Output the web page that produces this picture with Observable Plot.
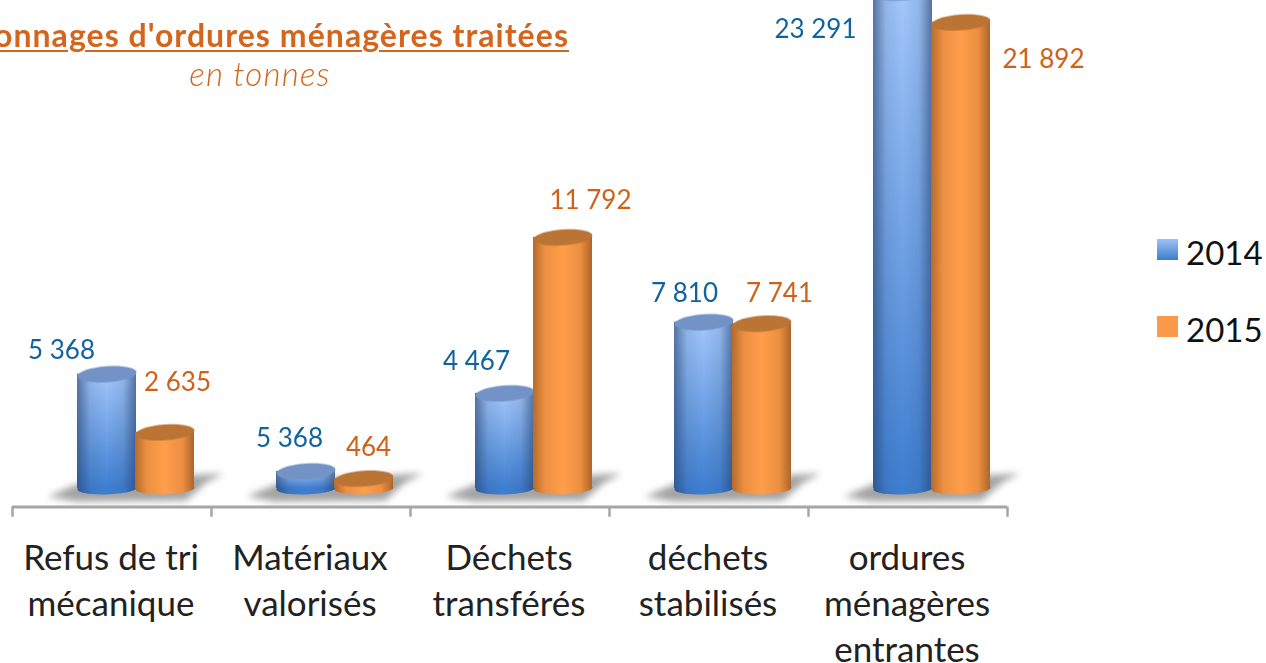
<!DOCTYPE html>
<html lang="fr">
<head>
<meta charset="utf-8">
<script src="https://cdn.jsdelivr.net/npm/d3@7"></script>
<script src="https://cdn.jsdelivr.net/npm/@observablehq/plot@0.6"></script>
<style>
html,body{margin:0;padding:0;background:#fff;width:1266px;height:663px;overflow:hidden}
#wrap{position:relative;width:1266px;height:663px;overflow:hidden}
#title{position:absolute;right:697px;top:15px;white-space:nowrap;font:700 32px Lato,sans-serif;letter-spacing:1.05px;color:#d4651c;text-decoration:underline;text-decoration-thickness:2px;text-underline-offset:3px;line-height:40px}
#subtitle{position:absolute;left:130px;width:260px;top:54px;text-align:center;font:italic 300 33px Lato,sans-serif;letter-spacing:1.2px;color:#d4651c;line-height:38px}
.lg{position:absolute;left:1157px;width:21px;height:21px}
.lt{position:absolute;left:1186px;font:400 33px Lato,sans-serif;color:#111;line-height:40px}
</style>
</head>
<body>
<div id="wrap">
<div id="chart"></div>
<div id="title">Tonnages d'ordures ménagères traitées</div>
<div id="subtitle">en tonnes</div>
<div class="lg" style="top:239px;background:linear-gradient(#9cc2f5,#3f7dcc)"></div>
<div class="lt" style="top:232px">2014</div>
<div class="lg" style="top:316px;background:#fb9a4b"></div>
<div class="lt" style="top:309px">2015</div>
</div>
<script>
const categories = ["Refus de tri\nmécanique", "Matériaux\nvalorisés", "Déchets\ntransférés", "déchets\nstabilisés", "ordures\nménagères\nentrantes"];
const values2014 = [5368, 800, 4467, 7810, 23291];
const values2015 = [2635, 464, 11792, 7741, 21892];
const labels2014 = ["5 368", "5 368", "4 467", "7 810", "23 291"];
const labels2015 = ["2 635", "464", "11 792", "7 741", "21 892"];

const offsets2014 = [[-50.5,-24],[-21.5,-33],[-33.5,-32],[-24.5,-29],[-92.5,37]];
const offsets2015 = [[65.5,-50],[57.5,-31],[80.5,-37],[70.5,-30],[135.5,37]];

const rows = (vals, labs) => categories.map((c,i)=>({category:c, value:vals[i], label:labs[i]}));
const rows14 = rows(values2014, labels2014);
const rows15 = rows(values2015, labels2015);

function ellipseSymbol(ratio, deg){
  const a = deg*Math.PI/180, c=Math.cos(a), s=Math.sin(a), k=0.5523;
  return {draw(ctx,size){
    const r=Math.sqrt(size/Math.PI), rx=r, ry=r*ratio;
    const p=(x,y)=>[x*rx*c-y*ry*s, x*rx*s+y*ry*c];
    ctx.moveTo(...p(1,0));
    ctx.bezierCurveTo(...p(1,k),...p(k,1),...p(0,1));
    ctx.bezierCurveTo(...p(-k,1),...p(-1,k),...p(-1,0));
    ctx.bezierCurveTo(...p(-1,-k),...p(-k,-1),...p(0,-1));
    ctx.bezierCurveTo(...p(k,-1),...p(1,-k),...p(1,0));
    ctx.closePath();
  }};
}
const shadowSymbol = {draw(ctx,size){
  const r=Math.sqrt(size/Math.PI)/83;
  const pts=[[-88,8],[-50,-8],[88,-15],[70,-6],[50,12],[-60,13]];
  pts.forEach((q,i)=> i?ctx.lineTo(q[0]*r,q[1]*r):ctx.moveTo(q[0]*r,q[1]*r));
  ctx.closePath();
}};
const capSym = ellipseSymbol(0.27,-4);
const baseSym = ellipseSymbol(0.2,-2);
const soft = "blur(.5px)";

const defs = () => d3.create("svg:defs").html(`
  <linearGradient id="b14" x1="0" x2="0" y1="0" y2="1"><stop offset="0" stop-color="#a4c8fb"/><stop offset="1" stop-color="#3f7fd2"/></linearGradient>
  <linearGradient id="edge" x1="0" x2="1" y1="0" y2="0"><stop offset="0" stop-color="#26406c" stop-opacity=".62"/><stop offset=".22" stop-color="#26406c" stop-opacity=".12"/><stop offset=".5" stop-color="#26406c" stop-opacity="0"/><stop offset=".78" stop-color="#26406c" stop-opacity=".12"/><stop offset="1" stop-color="#26406c" stop-opacity=".62"/></linearGradient>
  <linearGradient id="o15" x1="0" x2="1" y1="0" y2="0"><stop offset="0" stop-color="#b56b2c"/><stop offset=".2" stop-color="#ec8f42"/><stop offset=".5" stop-color="#ff9e4a"/><stop offset=".8" stop-color="#ec8f42"/><stop offset="1" stop-color="#ad6529"/></linearGradient>
`).node();

const valueMarks = (rs, offs, color) => rs.map((r,i)=>Plot.text([r],{x:"category",y:"value",text:"label",dx:offs[i][0],dy:offs[i][1],fill:color,fontSize:26,fontFamily:"Lato, sans-serif",fontWeight:400}));

const chart = Plot.plot({
  width:1266, height:663,
  marginLeft:12, marginRight:259, marginTop:0, marginBottom:156,
  style:{background:"#fff", overflow:"hidden"},
  x:{type:"band", domain:categories, padding:0, round:false, label:null},
  y:{domain:[0,24000], range:[488,-23], axis:null},
  marks:[
    defs,
    Plot.dot(categories,{x:d=>d,y:()=>0,dx:24,r:83,symbol:shadowSymbol,fill:"#777",fillOpacity:.68,stroke:"none",imageFilter:"blur(3.5px)"}),
    // 2014
    Plot.dot(rows14,{x:"category",y:()=>0,dx:-5,r:29.5,symbol:baseSym,fill:"#3f7fd2",stroke:"none",imageFilter:soft}),
    Plot.dot(rows14,{x:"category",y:()=>0,dx:-5,r:29.5,symbol:baseSym,fill:"url(#edge)",stroke:"none",imageFilter:soft}),
    Plot.barY(rows14,{x:"category",y:"value",insetLeft:65,insetRight:75,fill:"url(#b14)",imageFilter:soft}),
    Plot.barY(rows14,{x:"category",y:"value",insetLeft:65,insetRight:75,fill:"url(#edge)",imageFilter:soft}),
    Plot.dot(rows14,{x:"category",y:"value",dx:-5,r:29.5,symbol:capSym,fill:"#7393c6",stroke:"none",imageFilter:soft}),
    // 2015
    Plot.dot(rows15,{x:"category",y:()=>0,dx:53,r:29.5,symbol:baseSym,fill:"url(#o15)",stroke:"none",imageFilter:soft}),
    Plot.barY(rows15,{x:"category",y:"value",insetLeft:123,insetRight:17,fill:"url(#o15)",imageFilter:soft}),
    Plot.dot(rows15,{x:"category",y:"value",dx:53,r:29.5,symbol:capSym,fill:"#bb7434",stroke:"none",imageFilter:soft}),
    // baseline
    Plot.ruleY([-870],{stroke:"#a6a6a6",strokeWidth:3}),
    Plot.ruleX(categories,{x:d=>d,y1:-870,y2:-1350,dx:-99.5,stroke:"#a6a6a6",strokeWidth:2.5}),
    Plot.ruleX(categories.slice(-1),{x:d=>d,y1:-870,y2:-1350,dx:99.5,stroke:"#a6a6a6",strokeWidth:2.5}),
    ...valueMarks(rows14,offsets2014,"#11639f"),
    ...valueMarks(rows15,offsets2015,"#cf6118"),
    Plot.axisX({anchor:"bottom",tickSize:0,tickPadding:30,dx:-1,label:null,fontSize:35,lineHeight:1.314,fill:"#222",fontFamily:"Lato, sans-serif",textOverflow:null})
  ]
});
document.getElementById("chart").appendChild(chart);
</script>
</body>
</html>
